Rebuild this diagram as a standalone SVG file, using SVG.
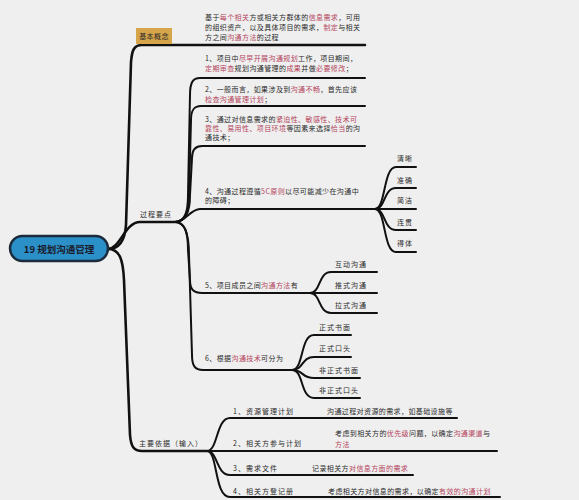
<svg xmlns="http://www.w3.org/2000/svg" width="579" height="500" viewBox="0 0 579 500">
<style>
.t{font-family:"Noto Sans CJK SC","Noto Sans",sans-serif;font-size:7px;letter-spacing:0.4px;fill:#2a2a2a}
.r{fill:#b4455c}
.l{font-family:"Noto Sans CJK SC","Noto Sans",sans-serif;font-size:7px;letter-spacing:1px;fill:#2a2a2a}
.e{fill:none;stroke:#111;stroke-width:2;stroke-linecap:round}
.m{fill:none;stroke:#111;stroke-width:2.6;stroke-linecap:round}
</style>
<rect width="579" height="500" fill="#efefef"/>
<g id="connectors">
<path class="m" d="M108,249 C120,249 125,240 126,225 L131,62 C132,50 134,45 142,45 L365,45"/>
<path class="m" d="M108,249 C120,249 125,222 140,222 L175,222"/>
<path class="m" d="M108,249 C120,249 123,260 124,280 L130,435 C131,447 134,451 142,451 L207,451"/>
<path class="e" d="M175,222 C185,222 188,212 188,195 L190,95 C190,82 193,78 200,78 L365,78"/>
<path class="e" d="M175,222 C185,222 189,210 189,195 L191,120 C191,110 194,106 201,106 L365,106"/>
<path class="e" d="M175,222 C186,222 190,212 190,195 L192,158 C192,150 195,146 202,146 L365,146"/>
<path class="e" d="M175,222 C186,222 190,209 200,209 L375,209"/>
<path class="e" d="M175,222 C185,222 188,232 188,250 L190,280 C190,290 194,293 202,293 L310,293"/>
<path class="e" d="M175,222 C185,222 189,235 189,255 L192,355 C192,366 195,370 203,370 L292,370"/>
<path class="e" d="M375,209 C386,209 383,167 396,167 L416,167"/>
<path class="e" d="M375,209 C386,209 383,188 396,188 L416,188"/>
<path class="e" d="M375,209 L416,209"/>
<path class="e" d="M375,209 C386,209 383,230 396,230 L416,230"/>
<path class="e" d="M375,209 C386,209 383,252 396,252 L416,252"/>
<path class="e" d="M310,293 C321,293 318,272 331,272 L377,272"/>
<path class="e" d="M310,293 L377,293"/>
<path class="e" d="M310,293 C321,293 318,313 331,313 L377,313"/>
<path class="e" d="M292,370 C304,370 300,335 314,335 L351,335"/>
<path class="e" d="M292,370 C304,370 301,357 314,357 L351,357"/>
<path class="e" d="M292,370 C304,370 301,378 314,378 L360,378"/>
<path class="e" d="M292,370 C304,370 300,398 314,398 L360,398"/>
<path class="e" d="M207,451 C218,451 216,418 230,418 L457,418"/>
<path class="e" d="M207,451 L497,451"/>
<path class="e" d="M207,451 C218,451 216,475 230,475 L413,475"/>
<path class="e" d="M207,451 C218,451 214,497 230,497 L500,497"/>
</g>
<g id="root">
<rect x="10" y="236" width="98" height="25" rx="12.5" fill="#2b8fc8" stroke="#1b2b3b" stroke-width="2.5"/>
<text x="59" y="252.5" text-anchor="middle" font-family="Noto Sans CJK SC, Noto Sans, sans-serif" font-size="9.5" font-weight="bold" fill="#1a1a2a">19 规划沟通管理</text>
</g>
<g id="concept">
<rect x="136" y="28" width="36" height="16" fill="#d6a54a"/>
<text class="t" x="154" y="39" text-anchor="middle">基本概念</text>
<text class="t" x="205" y="20">基于<tspan class="r">每个相关</tspan>方或相关方群体的<tspan class="r">信息需求</tspan>，可用</text>
<text class="t" x="205" y="30">的组织资产，以及具体项目的需求，<tspan class="r">制定</tspan>与相关</text>
<text class="t" x="205" y="40">方之间<tspan class="r">沟通方法</tspan>的过程</text>
</g>
<g id="process">
<text class="l" x="140" y="217">过程要点</text>
</g>
<g id="item1">
<text class="t" x="205" y="61">1、项目中<tspan class="r">尽早开展沟通规划</tspan>工作，项目期间，</text>
<text class="t" x="205" y="71"><tspan class="r">定期审查</tspan>规划沟通管理的<tspan class="r">成果</tspan>并做<tspan class="r">必要修改</tspan>；</text>
</g>
<g id="item2">
<text class="t" x="205" y="92">2、一般而言，如果涉及到<tspan class="r">沟通不畅</tspan>，首先应该</text>
<text class="t" x="205" y="102"><tspan class="r">检查沟通管理计划</tspan>；</text>
</g>
<g id="item3">
<text class="t" x="205" y="122">3、通过对信息需求的<tspan class="r">紧迫性、敏感性、技术可</tspan></text>
<text class="t" x="205" y="131"><tspan class="r">靠性、易用性、项目环境</tspan>等因素来选择<tspan class="r">恰当</tspan>的沟</text>
<text class="t" x="205" y="140">通技术；</text>
</g>
<g id="item4">
<text class="t" x="205" y="194">4、沟通过程遵循<tspan class="r">5C原则</tspan>以尽可能减少在沟通中</text>
<text class="t" x="205" y="203">的障碍；</text>
</g>
<g id="c1"><text class="l" x="397" y="161">清晰</text></g>
<g id="c2"><text class="l" x="397" y="183">准确</text></g>
<g id="c3"><text class="l" x="397" y="203">简洁</text></g>
<g id="c4"><text class="l" x="397" y="225">连贯</text></g>
<g id="c5"><text class="l" x="397" y="246">得体</text></g>
<g id="item5">
<text class="t" x="205" y="288">5、项目成员之间<tspan class="r">沟通方法</tspan>有</text>
</g>
<g id="m1"><text class="l" x="335" y="267">互动沟通</text></g>
<g id="m2"><text class="l" x="335" y="288">推式沟通</text></g>
<g id="m3"><text class="l" x="335" y="308">拉式沟通</text></g>
<g id="item6">
<text class="t" x="205" y="361">6、根据<tspan class="r">沟通技术</tspan>可分为</text>
</g>
<g id="f1"><text class="l" x="319" y="330">正式书面</text></g>
<g id="f2"><text class="l" x="319" y="351">正式口头</text></g>
<g id="f3"><text class="l" x="319" y="373">非正式书面</text></g>
<g id="f4"><text class="l" x="319" y="393">非正式口头</text></g>
<g id="inputs">
<text class="l" x="139" y="446">主要依据（输入）</text>
</g>
<g id="in1">
<text class="l" x="233" y="414">1、资源管理计划</text>
<text class="t" x="327" y="414">沟通过程对资源的需求，如基础设施等</text>
</g>
<g id="in2">
<text class="l" x="233" y="446">2、相关方参与计划</text>
<text class="t" x="335" y="436">考虑到相关方的<tspan class="r">优先级</tspan>问题，以确定<tspan class="r">沟通渠道</tspan>与</text>
<text class="t" x="335" y="447"><tspan class="r">方法</tspan></text>
</g>
<g id="in3">
<text class="l" x="233" y="471">3、需求文件</text>
<text class="t" x="312" y="471">记录相关方<tspan class="r">对信息方面的需求</tspan></text>
</g>
<g id="in4">
<text class="l" x="233" y="494">4、相关方登记册</text>
<text class="t" x="328" y="494">考虑相关方对信息的需求，以确定<tspan class="r">有效的沟通计划</tspan></text>
</g>
</svg>
